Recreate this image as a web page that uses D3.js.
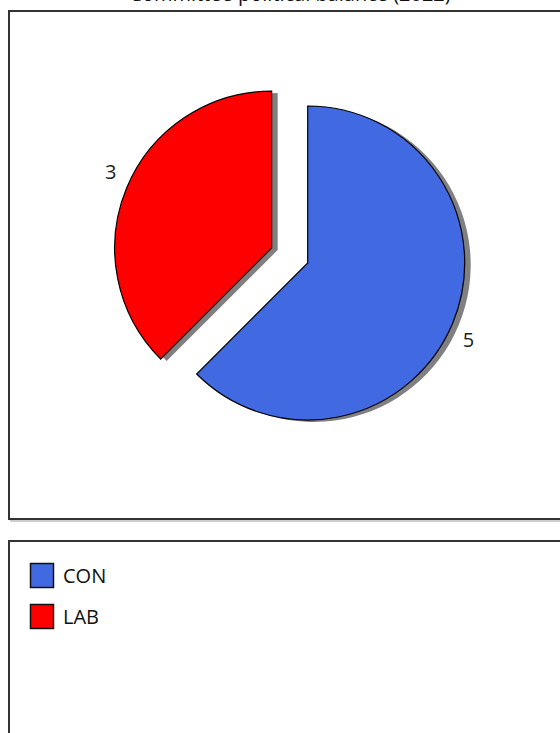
<!DOCTYPE html>
<html>
<head>
<meta charset="utf-8">
<script src="https://cdn.jsdelivr.net/npm/d3@7"></script>
<style>
  html, body { margin: 0; padding: 0; background: #fff; overflow: hidden; }
  svg { display: block; font-family: "Open Sans", "Noto Sans", sans-serif; }
</style>
</head>
<body>
<svg id="chart" width="560" height="733"></svg>
<script>
// chart values
const parties = ['CON', 'LAB'];
const seats = [5, 3];
const partyColours = ['#4169E1', '#FF0000'];
const titleText = 'Committee political balance (2022)';
const explodedParty = 'LAB';

const W = 560, H = 733;
const cx = 307.7, cy = 263, radius = 157, explodeBy = 39;

const svg = d3.select('#chart');
const data = parties.map((p, i) => ({ party: p, value: seats[i] }));
const colour = d3.scaleOrdinal().domain(parties).range(partyColours);

// panel frames (with a soft shadow line)
function frame(x, y, w, h) {
  svg.append('rect')
    .attr('x', x + 2).attr('y', y + 2).attr('width', w).attr('height', h)
    .attr('fill', 'none').attr('stroke', '#bdbdbd').attr('stroke-width', 1.5);
  svg.append('rect')
    .attr('x', x).attr('y', y).attr('width', w).attr('height', h)
    .attr('fill', '#fff').attr('stroke', '#333').attr('stroke-width', 2);
}
frame(9, 11, 600, 508);
frame(9, 541, 600, 260);

// title, mostly cut off above the page (as in the reference)
svg.append('text')
  .attr('x', 290).attr('y', 1)
  .attr('text-anchor', 'middle')
  .style('font-size', '20px')
  .attr('fill', '#111')
  .text(titleText);

const pie = d3.pie().sort(null).value(d => d.value);
const arc = d3.arc().innerRadius(0).outerRadius(radius);
const arcs = pie(data);

const offset = d => {
  if (d.data.party !== explodedParty) return [0, 0];
  const a = (d.startAngle + d.endAngle) / 2;
  return [Math.sin(a) * explodeBy, -Math.cos(a) * explodeBy];
};

const g = svg.append('g').attr('transform', `translate(${cx}, ${cy})`);

// shadows
g.selectAll('path.shadow')
  .data(arcs)
  .join('path')
    .attr('class', 'shadow')
    .attr('transform', d => { const o = offset(d); return `translate(${o[0] + 6}, ${o[1] + 2})`; })
    .attr('d', arc)
    .attr('fill', '#808080');

g.selectAll('path.slice')
  .data(arcs)
  .join('path')
    .attr('class', 'slice')
    .attr('transform', d => { const o = offset(d); return `translate(${o[0]}, ${o[1]})`; })
    .attr('d', arc)
    .attr('fill', d => colour(d.data.party))
    .attr('stroke', '#000')
    .attr('stroke-width', 1.2);

// value labels just outside each slice
const labelR = 178;
g.selectAll('text.val')
  .data(arcs)
  .join('text')
    .attr('class', 'val')
    .attr('x', d => { const a = (d.startAngle + d.endAngle) / 2 + 0.05; return offset(d)[0] + Math.sin(a) * labelR; })
    .attr('y', d => { const a = (d.startAngle + d.endAngle) / 2 + 0.05; return offset(d)[1] - Math.cos(a) * labelR; })
    .attr('text-anchor', 'middle')
    .attr('dominant-baseline', 'central')
    .style('font-size', '20px')
    .attr('fill', '#222')
    .text(d => d.data.value);

// legend
const legend = svg.append('g').attr('transform', 'translate(30, 563)');
const row = legend.selectAll('g')
  .data(parties)
  .join('g')
    .attr('transform', (d, i) => `translate(0, ${i * 41})`);

row.append('rect')
  .attr('x', 0.5).attr('y', 0.5).attr('width', 23).attr('height', 24)
  .attr('fill', d => colour(d))
  .attr('stroke', '#111').attr('stroke-width', 1.5);

row.append('text')
  .attr('x', 33).attr('y', 12.5)
  .attr('dominant-baseline', 'central')
  .style('font-size', '20px')
  .attr('fill', '#111')
  .text(d => d);
</script>
</body>
</html>
